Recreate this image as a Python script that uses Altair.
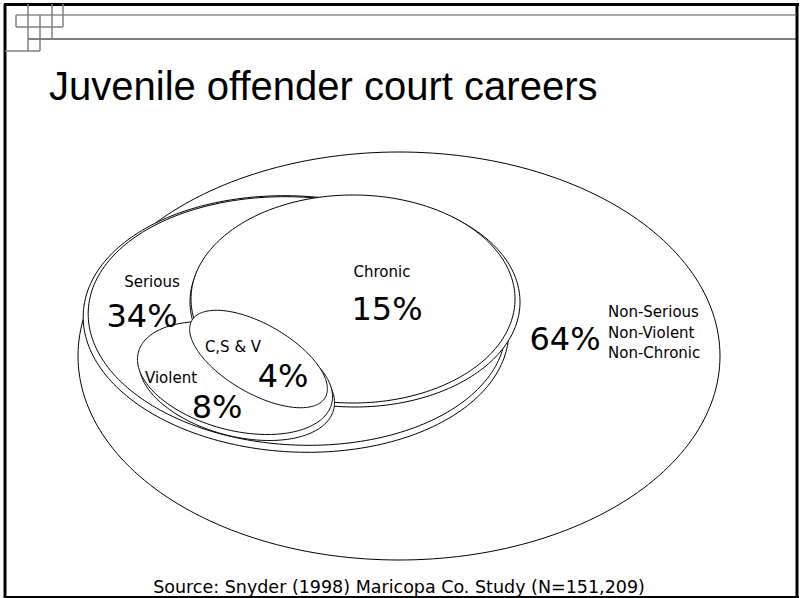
import math
import altair as alt
import pandas as pd

# ---------------- data ----------------
# Venn ellipses (pixel space): centre, semi-axes, rotation (deg), drawn in this order
ell_names = ["All", "Serious", "Serious (2)", "Chronic (2)", "Chronic", "Violent (2)", "Violent", "C,S & V"]
ell_cx = [399, 296, 297, 355, 353, 237, 235, 258.5]
ell_cy = [356, 324, 321, 302, 299, 384, 378, 359]
ell_rx = [321, 213, 209, 165, 162, 100, 100, 77]
ell_ry = [204, 128, 124, 105, 104, 52, 52, 34.5]
ell_rot = [0, 3, 3, 0, 0, 15, 15, 30]

# labels
lab_text = ["Serious", "34%", "Chronic", "15%", "C,S & V", "4%", "Violent", "8%", "64%"]
lab_x = [152, 142, 382, 387, 233, 283, 171, 217, 565]
lab_y = [287, 327, 277, 320, 352, 387, 383, 418, 350]
lab_size = [15, 32, 15, 32, 15, 32, 15, 32, 32]

non_text = ["Non-Serious", "Non-Violent", "Non-Chronic"]
non_x = [608, 608, 608]
non_y = [317, 338, 358]

title_text = ["Juvenile offender court careers"]
source_text = ["Source: Snyder (1998) Maricopa Co. Study (N=151,209)"]

# slide frame decoration segments: x1, y1, x2, y2, colour, width
seg_x1 = [4, 5, 797, 4, 16, 28, 28, 52, 63, 40, 16, 16, 5]
seg_y1 = [4.5, 4, 4, 597, 15, 39, 4, 4, 4, 15, 15, 27, 51]
seg_x2 = [799, 5, 797, 799, 797, 797, 28, 52, 63, 40, 16, 63, 40]
seg_y2 = [4.5, 598, 598, 597, 15, 39, 51, 39, 27, 51, 27, 27, 51]
seg_col = ["black", "black", "black", "black", "#555555", "black",
           "#808080", "#808080", "#808080", "#808080", "#808080", "#808080", "#808080"]
seg_w = [3, 3, 3, 2, 1, 1, 1.5, 1.5, 1.5, 1.5, 1.5, 1.5, 1.5]

# ---------------- build geometry ----------------
def ellipse_feature(name, cx, cy, rx, ry, rot, n=240):
    th = math.radians(rot)
    c, s = math.cos(th), math.sin(th)
    pts = []
    for i in range(n + 1):
        t = 2 * math.pi * i / n
        ex, ey = rx * math.cos(t), ry * math.sin(t)
        pts.append([cx + ex * c - ey * s, cy + ex * s + ey * c])
    return {"type": "Feature", "properties": {"name": name},
            "geometry": {"type": "Polygon", "coordinates": [pts]}}

ell_features = [ellipse_feature(*args) for args in
                zip(ell_names, ell_cx, ell_cy, ell_rx, ell_ry, ell_rot)]

seg_features = [{"type": "Feature", "properties": {"c": c, "w": w},
                 "geometry": {"type": "LineString", "coordinates": [[a, b], [d, e]]}}
                for a, b, d, e, c, w in zip(seg_x1, seg_y1, seg_x2, seg_y2, seg_col, seg_w)]

proj = dict(type="identity", scale=1, translate=[0, 0], reflectY=False)

frame = alt.Chart(alt.Data(values=seg_features)).mark_geoshape(filled=False).encode(
    stroke=alt.Stroke("properties.c:N", scale=None),
    strokeWidth=alt.StrokeWidth("properties.w:Q", scale=None),
).project(**proj)

venn = alt.Chart(alt.Data(values=ell_features)).mark_geoshape(
    fill="white", stroke="black", strokeWidth=1
).project(**proj)

lab_df = pd.DataFrame({"t": lab_text, "x": lab_x, "y": lab_y, "s": lab_size})
labels = alt.Chart(lab_df).mark_text(font="DejaVu Sans", align="center", baseline="alphabetic",
                                     color="black").encode(
    longitude="x:Q", latitude="y:Q", text="t:N", size=alt.Size("s:Q", scale=None)
).project(**proj)

non_df = pd.DataFrame({"t": non_text, "x": non_x, "y": non_y})
non_labels = alt.Chart(non_df).mark_text(font="DejaVu Sans", fontSize=15, align="left",
                                         baseline="alphabetic", color="black").encode(
    longitude="x:Q", latitude="y:Q", text="t:N"
).project(**proj)

title_df = pd.DataFrame({"t": title_text, "x": [49], "y": [100]})
title = alt.Chart(title_df).mark_text(font="Liberation Sans", fontSize=40, align="left",
                                      baseline="alphabetic", color="black").encode(
    longitude="x:Q", latitude="y:Q", text="t:N"
).project(**proj)

src_df = pd.DataFrame({"t": source_text, "x": [399], "y": [593]})
source = alt.Chart(src_df).mark_text(font="DejaVu Sans", fontSize=17.5, align="center",
                                     baseline="alphabetic", color="black").encode(
    longitude="x:Q", latitude="y:Q", text="t:N"
).project(**proj)

chart = alt.layer(frame, venn, labels, non_labels, title, source).properties(
    width=801, height=598, padding=0, autosize=alt.AutoSizeParams(type="none"),
    background="white"
).configure_view(stroke=None)

chart.save("out.html", embed_options={"renderer": "svg", "actions": False})
